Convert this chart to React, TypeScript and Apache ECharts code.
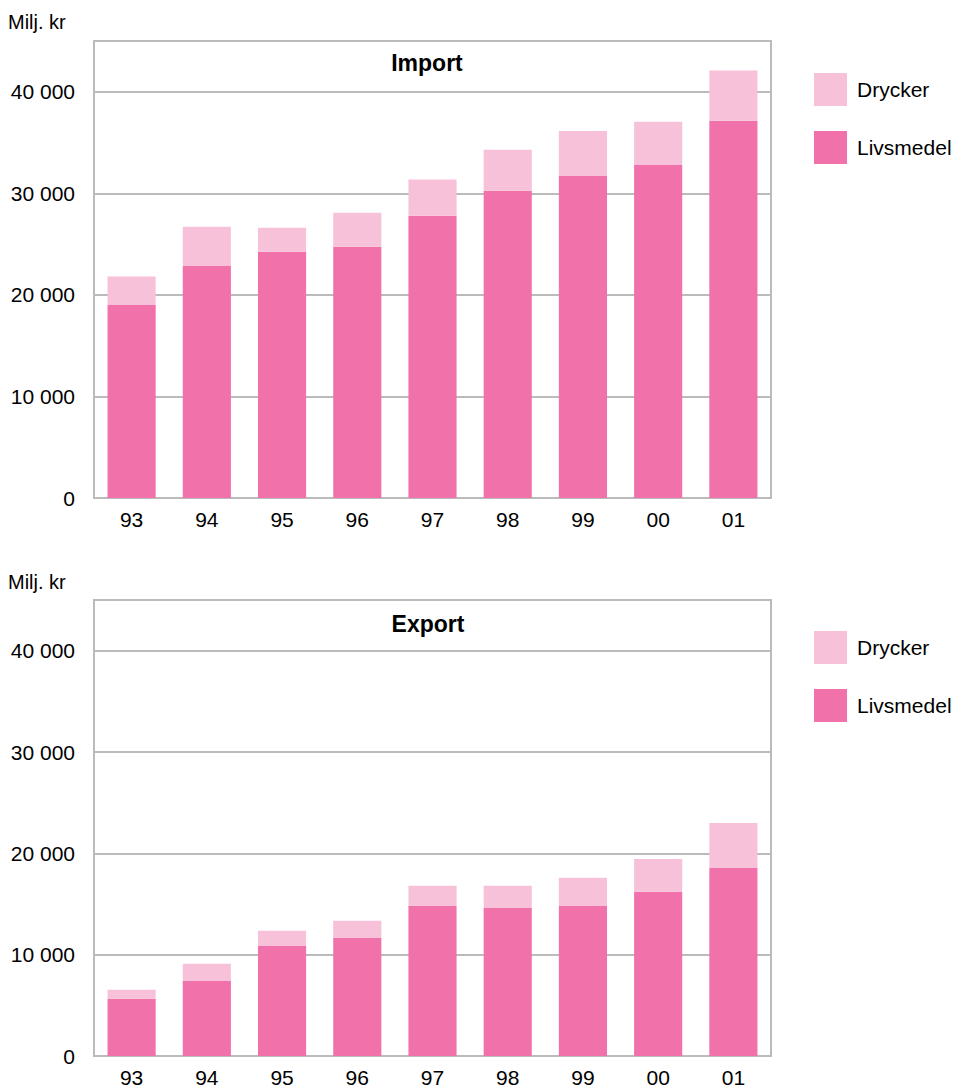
import React, { useEffect, useRef } from "react";
import * as echarts from "echarts";

const years = ["93", "94", "95", "96", "97", "98", "99", "00", "01"];
const importLivsmedel = [19000, 22850, 24250, 24750, 27800, 30250, 31750, 32800, 37150];
const importDrycker = [2800, 3850, 2350, 3350, 3550, 4050, 4400, 4250, 4950];
const exportLivsmedel = [5650, 7400, 10850, 11650, 14800, 14600, 14800, 16200, 18550];
const exportDrycker = [900, 1700, 1500, 1700, 2000, 2200, 2800, 3250, 4450];
const yTicks = [0, 10000, 20000, 30000, 40000];

const DARK = "#F172AA";
const LIGHT = "#F7C2D9";
const GRAYLINE = "#BBBBBB";
const FONT = "Liberation Sans, Arial, Helvetica, sans-serif";

const fmt = (v: number) => (v === 0 ? "0" : String(Math.round(v / 1000)) + " 000");

export default function App() {
  const ref = useRef<HTMLDivElement>(null);
  useEffect(() => {
    if (!ref.current) return;
    const chart = echarts.init(ref.current, null, { renderer: "svg" });
    const grids = [
      { left: 94, top: 41, width: 677, height: 457 },
      { left: 94, top: 600, width: 677, height: 456 },
    ];
    const xAxis = grids.map((_, i) => ({
      type: "category" as const,
      gridIndex: i,
      data: years,
      axisLine: { lineStyle: { color: GRAYLINE, width: 2 } },
      axisTick: { show: false },
      axisLabel: { color: "#000", fontSize: 21, fontFamily: FONT, margin: 11 },
    }));
    const yAxis = grids.map((_, i) => ({
      type: "value" as const,
      gridIndex: i,
      min: 0,
      max: 45000,
      interval: 10000,
      axisLine: { show: true, lineStyle: { color: GRAYLINE, width: 2 } },
      axisTick: { show: false },
      splitLine: { show: true, lineStyle: { color: GRAYLINE, width: 2 } },
      axisLabel: {
        color: "#000",
        fontSize: 21,
        fontFamily: FONT,
        margin: 19,
        showMaxLabel: false,
        formatter: (v: number) => (yTicks.indexOf(v) >= 0 ? fmt(v) : ""),
      },
    }));
    const mk = (name: string, data: number[], idx: number, color: string) => ({
      name,
      type: "bar" as const,
      xAxisIndex: idx,
      yAxisIndex: idx,
      stack: "s" + idx,
      data,
      barWidth: "64%",
      itemStyle: { color },
      emphasis: { disabled: true },
    });
    const legendBase = {
      orient: "vertical" as const,
      left: 809,
      itemWidth: 33,
      itemHeight: 33,
      itemGap: 25,
      icon: "rect",
      data: ["Drycker", "Livsmedel"],
      textStyle: { color: "#000", fontSize: 21, fontFamily: FONT, padding: [0, 0, 0, 5] },
      selectedMode: false,
    };
    chart.setOption({
      animation: false,
      grid: grids.map((g) => ({ ...g, show: true, borderColor: GRAYLINE, borderWidth: 2 })),
      xAxis,
      yAxis,
      legend: [
        { ...legendBase, top: 68 },
        { ...legendBase, top: 626 },
      ],
      graphic: [
        { type: "text", x: 8, y: 22, style: { text: "Milj. kr", fontSize: 20, fontFamily: FONT, fill: "#000", verticalAlign: "middle" } },
        { type: "text", x: 8, y: 582, style: { text: "Milj. kr", fontSize: 20, fontFamily: FONT, fill: "#000", verticalAlign: "middle" } },
        { type: "text", x: 427, y: 63, style: { text: "Import", fontSize: 23, fontWeight: "bold", fontFamily: FONT, fill: "#000", align: "center", verticalAlign: "middle" } },
        { type: "text", x: 428, y: 624, style: { text: "Export", fontSize: 23, fontWeight: "bold", fontFamily: FONT, fill: "#000", align: "center", verticalAlign: "middle" } },
      ],
      series: [
        mk("Livsmedel", importLivsmedel, 0, DARK),
        mk("Drycker", importDrycker, 0, LIGHT),
        mk("Livsmedel", exportLivsmedel, 1, DARK),
        mk("Drycker", exportDrycker, 1, LIGHT),
      ],
    });
    return () => chart.dispose();
  }, []);
  return <div ref={ref} style={{ position: "absolute", left: 0, top: 0, width: 957, height: 1091 }} />;
}
